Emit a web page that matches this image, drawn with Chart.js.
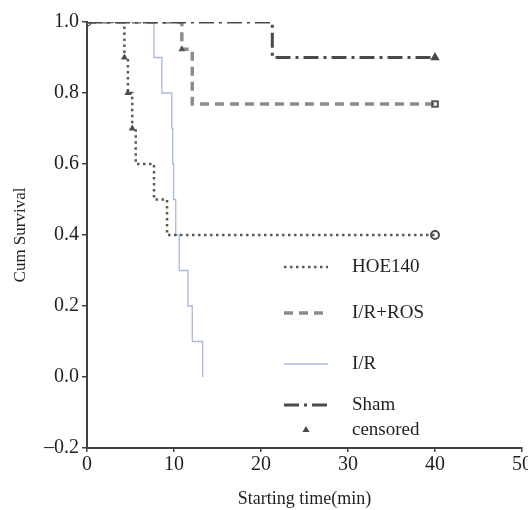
<!DOCTYPE html>
<html lang="en">
<head>
    <title>Cum Survival</title>
    <script src="https://cdn.jsdelivr.net/npm/chart.js@4.4.1/dist/chart.umd.min.js"></script>
    <style>
        html, body { margin: 0; padding: 0; background: #fff; }
        .wrap { width: 528px; height: 510px; }
    </style>
</head>
<body>
<div class="wrap"><canvas id="survChart" width="528" height="510"></canvas></div>
<script>
    /* Values */
    const groupNames = ["Sham", "I/R+ROS", "HOE140", "I/R"];

    const shamTime = [0, 21.3, 40];
    const shamSurv = [1.0, 0.90, 0.90];

    const rosTime = [0, 10.9, 12.1, 40];
    const rosSurv = [1.0, 0.923, 0.769, 0.769];

    const hoeTime = [0, 4.3, 4.7, 5.2, 5.6, 7.7, 9.2, 40];
    const hoeSurv = [1.0, 0.9, 0.8, 0.7, 0.6, 0.5, 0.4, 0.4];

    const irTime = [0, 7.7, 8.6, 9.75, 9.85, 9.95, 10.2, 10.6, 11.6, 12.1, 13.3];
    const irSurv = [1.0, 0.9, 0.8, 0.7, 0.6, 0.5, 0.4, 0.3, 0.2, 0.1, 0.0];

    const xTickValues = [0, 10, 20, 30, 40, 50];
    const yTickValues = [-0.2, 0.0, 0.2, 0.4, 0.6, 0.8, 1.0];
    const censoredLabel = "censored";

    const textColor = "#1c221c";
    const axisColor = "#3b463b";
    const serif = "'Liberation Serif', 'Times New Roman', serif";

    function toPoints(ts, ss){
        return ts.map((t, i) => ({x: t, y: ss[i]}));
    }

    const datasets = [
        {
            label: groupNames[0],
            data: toPoints(shamTime, shamSurv),
            borderColor: "#464c46",
            borderWidth: 3,
            borderDash: [15, 5, 3, 5],
            pointRadius: [4, 0, 4],
            pointStyle: ['circle', 'triangle', 'triangle'],
            pointBackgroundColor: ['rgba(0,0,0,0)', '#464c46', '#464c46'],
            pointBorderColor: "#464c46",
            pointBorderWidth: 1.5
        },
        {
            label: groupNames[1],
            data: toPoints(rosTime, rosSurv),
            borderColor: "#8b8d8b",
            borderWidth: 3.5,
            borderDash: [9, 6],
            pointRadius: [0, 2, 0, 4],
            pointStyle: ['rect', 'triangle', 'rect', 'rect'],
            pointBackgroundColor: ['rgba(0,0,0,0)', '#555a55', 'rgba(0,0,0,0)', 'rgba(0,0,0,0)'],
            pointBorderColor: "#555a55",
            pointBorderWidth: 2
        },
        {
            label: groupNames[2],
            data: toPoints(hoeTime, hoeSurv),
            borderColor: "#555b55",
            borderWidth: 2.5,
            borderDash: [2.5, 3.5],
            pointRadius: [0, 2, 2, 2, 0, 0, 0, 4],
            pointStyle: ['circle', 'triangle', 'triangle', 'triangle', 'circle', 'circle', 'circle', 'circle'],
            pointBackgroundColor: ['rgba(0,0,0,0)', '#3f443f', '#3f443f', '#3f443f', 'rgba(0,0,0,0)', 'rgba(0,0,0,0)', 'rgba(0,0,0,0)', 'rgba(0,0,0,0)'],
            pointBorderColor: "#4a4f4a",
            pointBorderWidth: 2
        },
        {
            label: groupNames[3],
            data: toPoints(irTime, irSurv),
            borderColor: "#a9badb",
            borderWidth: 1.3,
            borderDash: [],
            pointRadius: 0
        }
    ];
    datasets.forEach(d => { d.stepped = 'before'; d.fill = false; d.tension = 0; });

    /* legend drawn inside the plot like the original */
    const legendRows = [
        {set: 2, y: 267},
        {set: 1, y: 313},
        {set: 3, y: 364},
        {set: 0, y: 405}
    ];
    const insideLegend = {
        id: 'insideLegend',
        afterDraw(chart){
            const c = chart.ctx;
            c.save();
            c.font = "19px " + serif;
            c.fillStyle = textColor;
            c.textBaseline = 'middle';
            for(let row of legendRows){
                const ds = chart.data.datasets[row.set];
                c.beginPath();
                c.strokeStyle = ds.borderColor;
                c.lineWidth = ds.borderWidth;
                c.setLineDash(ds.borderDash);
                c.moveTo(284, row.y);
                c.lineTo(328, row.y);
                c.stroke();
                c.setLineDash([]);
                c.fillText(ds.label, 352, row.y);
            }
            // censored symbol
            c.beginPath();
            c.fillStyle = "#464c46";
            c.moveTo(306, 426);
            c.lineTo(309.5, 432);
            c.lineTo(302.5, 432);
            c.closePath();
            c.fill();
            c.fillStyle = textColor;
            c.fillText(censoredLabel, 352, 430);
            c.restore();
        }
    };

    const ctx = document.getElementById('survChart').getContext('2d');
    const survChart = new Chart(ctx, {
        type: 'line',
        data: { datasets: datasets },
        plugins: [insideLegend],
        options: {
            responsive: false,
            animation: false,
            plugins: { legend: { display: false }, tooltip: { enabled: false } },
            layout: { padding: { top: 22, right: 3, left: 0, bottom: 0 } },
            scales: {
                x: {
                    type: 'linear',
                    min: 0,
                    max: 50,
                    afterBuildTicks: (s) => { s.ticks = xTickValues.map(v => ({value: v})); },
                    afterFit: (s) => { s.paddingRight = 0; s.paddingLeft = 0; s.height = 62; },
                    ticks: {
                        color: textColor,
                        font: { family: serif, size: 20 },
                        padding: 1,
                        maxRotation: 0
                    },
                    grid: { drawOnChartArea: false, drawTicks: true, tickLength: 4, color: axisColor, lineWidth: 1.5 },
                    border: { display: true, color: axisColor, width: 2 },
                    title: {
                        display: true,
                        text: 'Starting time(min)',
                        color: textColor,
                        font: { family: serif, size: 18 },
                        padding: { top: 0, bottom: 0 }
                    }
                },
                y: {
                    min: -0.2,
                    max: 1.0,
                    afterBuildTicks: (s) => { s.ticks = yTickValues.map(v => ({value: v})); },
                    afterFit: (s) => { s.paddingTop = 0; s.paddingBottom = 0; s.width = 87; },
                    ticks: {
                        color: textColor,
                        font: { family: serif, size: 20 },
                        padding: 3,
                        callback: (v) => (v < 0 ? '\u2013' + Math.abs(v).toFixed(1) : v.toFixed(1))
                    },
                    grid: { drawOnChartArea: false, drawTicks: true, tickLength: 5, color: axisColor, lineWidth: 1.5 },
                    border: { display: true, color: axisColor, width: 2 },
                    title: {
                        display: true,
                        text: 'Cum Survival',
                        color: textColor,
                        font: { family: serif, size: 17 },
                        padding: { top: 10, bottom: 0 }
                    }
                }
            }
        }
    });
</script>
</body>
</html>
